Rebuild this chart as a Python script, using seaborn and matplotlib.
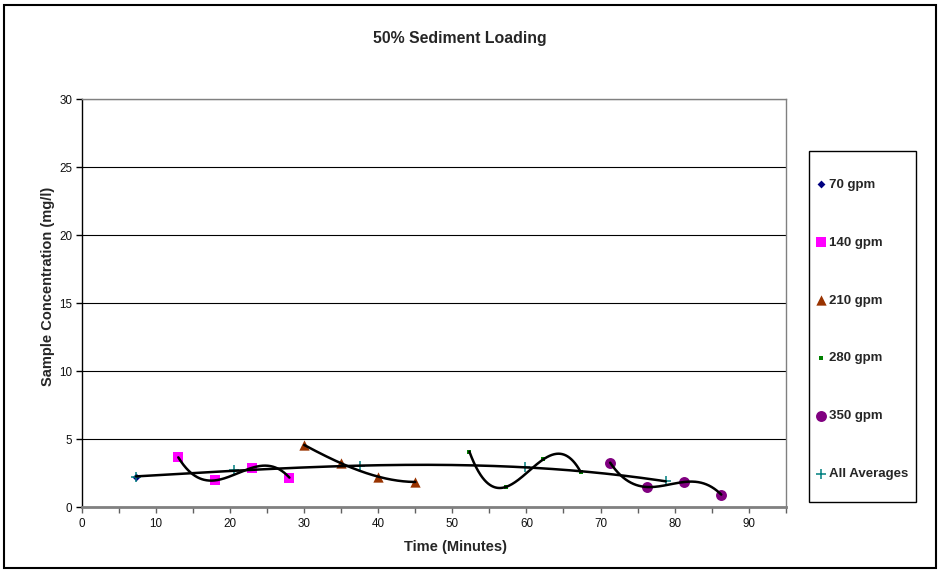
import numpy as np
import pandas as pd
import matplotlib
matplotlib.use("Agg")
import matplotlib.pyplot as plt
import seaborn as sns
from matplotlib.patches import Rectangle

# ---- data ----
time_70 = [7.3]
conc_70 = [2.23]
time_140 = [13.0, 18.0, 23.0, 28.0]
conc_140 = [3.65, 1.96, 2.89, 2.16]
time_210 = [30.0, 35.0, 40.0, 45.0]
conc_210 = [4.56, 3.21, 2.23, 1.84]
time_280 = [52.3, 57.3, 62.3, 67.3]
conc_280 = [4.07, 1.49, 3.51, 2.60]
time_350 = [71.3, 76.3, 81.3, 86.3]
conc_350 = [3.26, 1.47, 1.84, 0.91]
avg_time = [7.3, 20.5, 37.5, 59.8, 78.8]
avg_conc = [2.23, 2.72, 2.98, 2.95, 1.88]

series_labels = ["70 gpm", "140 gpm", "210 gpm", "280 gpm", "350 gpm", "All Averages"]
x_tick_values = [0, 10, 20, 30, 40, 50, 60, 70, 80, 90]
x_minor_values = [5, 15, 25, 35, 45, 55, 65, 75, 85, 95]
y_tick_values = [0, 5, 10, 15, 20, 25, 30]

sns.set_style("white")
plt.rcParams['font.family'] = ['Liberation Sans', 'DejaVu Sans']

W, H = 940, 570
fig = plt.figure(figsize=(9.4, 5.7), dpi=100)
ax = fig.add_axes([82 / W, 1 - 507 / H, (785.7 - 82) / W, (507 - 99) / H])

series = [
    (time_70, conc_70, "D", "#000080", 16, 0, None),
    (time_140, conc_140, "s", "#FF00FF", 52, 0, 3),
    (time_210, conc_210, "^", "#993300", 55, 0, 3),
    (time_280, conc_280, "s", "#008000", 12, 0, 3),
    (time_350, conc_350, "o", "#800080", 62, 0, 3),
    (avg_time, avg_conc, "+", "#008080", 42, 1.1, 3),
]

handles = []
for (xs, ys, mk, col, s, lw, deg), lab in zip(series, series_labels):
    sns.scatterplot(x=xs, y=ys, ax=ax, marker=mk, color=col, s=s,
                    linewidth=lw, edgecolor=col if mk != "+" else None,
                    label=lab, zorder=3)
    handles.append(ax.collections[-1])
    if deg is not None:
        coef = np.polyfit(xs, ys, deg)
        xx = np.linspace(min(xs), max(xs), 300)
        yy = np.polyval(coef, xx)
        sns.lineplot(x=xx, y=yy, ax=ax, color="black", lw=1.8,
                     legend=False, estimator=None, sort=False, zorder=4)

ax.set_xlim(0, 95)
ax.set_ylim(0, 30)
ax.set_xticks(x_tick_values)
ax.set_xticks(x_minor_values, minor=True)
ax.set_yticks(y_tick_values)
ax.set_axisbelow(True)
ax.yaxis.grid(True, color="black", lw=0.8)
ax.xaxis.grid(False)

ax.tick_params(axis="both", which="both", direction="out", length=4, width=1,
               bottom=True, left=True, labelsize=8.4, labelcolor="#111111")
ax.tick_params(axis="x", which="both", color="#606060", pad=4)
ax.tick_params(axis="y", color="black", pad=3)

for side in ["top", "right"]:
    ax.spines[side].set_color("#808080")
    ax.spines[side].set_linewidth(1.0)
ax.spines["bottom"].set_color("#808080")
ax.spines["bottom"].set_linewidth(2.0)
ax.spines["left"].set_color("black")
ax.spines["left"].set_linewidth(1.0)

ax.set_xlabel("Time (Minutes)", fontsize=10.5, fontweight="bold")
ax.xaxis.set_label_coords((455 - 82) / 703.7, -(547 - 507) / 408)
ax.xaxis.label.set_va("center")
ax.set_ylabel("Sample Concentration (mg/l)", fontsize=10.5, fontweight="bold")
ax.yaxis.set_label_coords((48 - 82) / 703.7, (507 - 286) / 408)
ax.yaxis.label.set_va("center")

fig.text(460 / W, 1 - 38 / H, "50% Sediment Loading", ha="center", va="center",
         fontsize=11.4, fontweight="bold")

leg = ax.legend(handles, series_labels, loc="upper left",
                bbox_to_anchor=(815.4 / W, 1 - 178.5 / H), bbox_transform=fig.transFigure,
                frameon=False, prop=dict(weight="bold", size=9.5),
                labelspacing=3.46, borderpad=0, borderaxespad=0,
                handlelength=0.8, handletextpad=0.24, scatterpoints=1)

# legend frame
fig.patches.append(Rectangle((808.7 / W, 1 - 501.7 / H), (916 - 808.7) / W, (501.7 - 151) / H,
                             transform=fig.transFigure, fill=False, edgecolor="black", lw=1.0))
# outer chart border
fig.patches.append(Rectangle((4 / W, 1 - 568 / H), (936 - 4) / W, (568 - 5) / H,
                             transform=fig.transFigure, fill=False, edgecolor="black", lw=1.5))

fig.savefig("out.png", dpi=100)
